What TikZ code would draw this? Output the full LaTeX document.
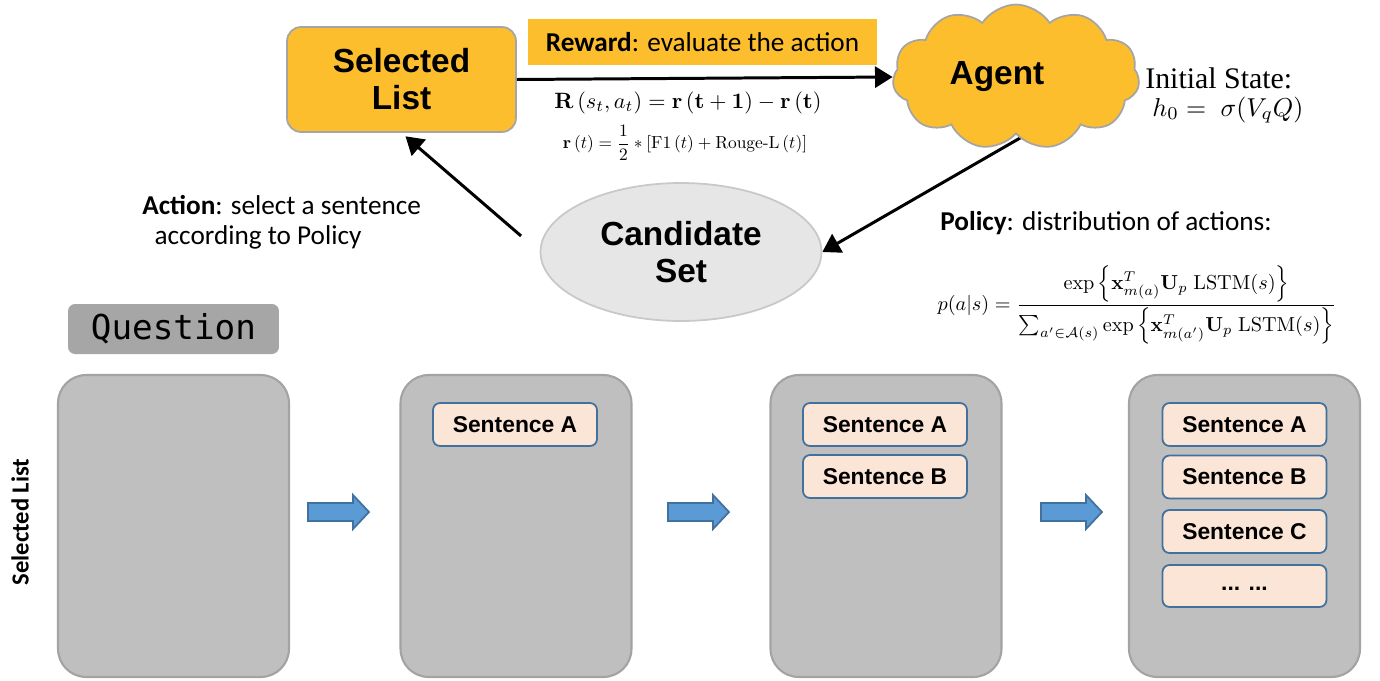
\documentclass[tikz,border=0pt]{standalone}
\usepackage{amsmath,amssymb}
\usepackage[no-math]{fontspec}
\usepackage{graphicx}
\setmainfont{Liberation Sans}
\newfontfamily\calfont{Carlito}
\newfontfamily\monofont{DejaVu Sans Mono}
\newfontfamily\serfont{Liberation Serif}
\newfontfamily\lmfont{Latin Modern Roman}
\usetikzlibrary{shapes.geometric,shapes.symbols,arrows.meta,backgrounds}
\definecolor{gold}{HTML}{FCBE2D}
\definecolor{edgegray}{HTML}{A5A5A5}
\definecolor{candfill}{HTML}{E7E6E6}
\definecolor{candedge}{HTML}{C8C8C8}
\definecolor{panelfill}{HTML}{BFBFBF}
\definecolor{paneledge}{HTML}{A3A3A3}
\definecolor{qfill}{HTML}{A6A6A6}
\definecolor{peach}{HTML}{FBE5D6}
\definecolor{steel}{HTML}{41719C}
\definecolor{bluefill}{HTML}{5B9BD5}
\begin{document}
\begin{tikzpicture}[x=0.02cm,y=-0.02cm,
  bignode/.style={font=\fontsize{19}{21}\selectfont\bfseries, align=center, inner sep=0pt},
  selbox/.style={bignode, draw=edgegray, line width=1pt, fill=gold, rounded corners=8pt,
     minimum width=4.58cm, minimum height=2.1cm},
  cloudnode/.style={bignode, cloud, cloud puffs=11, cloud puff arc=115, aspect=1.7,
     draw=edgegray, line width=1pt, fill=gold, minimum width=4.94cm, minimum height=2.9cm},
  candnode/.style={bignode, ellipse, draw=candedge, line width=1pt, fill=candfill,
     minimum width=5.62cm, minimum height=2.76cm},
  panel/.style={draw=paneledge, line width=1.2pt, fill=panelfill, rounded corners=16pt,
     minimum width=4.62cm, minimum height=6.04cm, inner sep=0pt},
  sentbox/.style={draw=steel, line width=1pt, fill=peach, rounded corners=4pt,
     minimum width=3.28cm, minimum height=0.86cm, inner sep=0pt,
     font=\fontsize{13}{15}\selectfont\bfseries},
  conn/.style={line width=1.7pt, -{Triangle[length=10pt,width=12pt]}},
  bluearrow/.style={draw=steel, line width=1pt, fill=bluefill},
  caltext/.style={font=\calfont\fontsize{15.5}{18}\selectfont, inner sep=0pt}
]
\useasboundingbox (0,0) rectangle (1380,680);

% top cycle
\node[selbox] (sel) at (401.5,79.5) {Selected\\List};
\node[fill=gold, minimum width=6.98cm, minimum height=0.94cm, inner sep=0pt,
      font=\calfont\fontsize{15.5}{18}\selectfont] (rew) at (702.5,42)
      {\textbf{Reward}: evaluate the action};
\node[cloudnode] (agent) at (1016,77) {};
\node[bignode] (agentlbl) at (997,77) {Agent};
\node[candnode] (cand) at (681,252) {Candidate\\Set};

\draw[conn] (sel.east) -- (agent.west);
\begin{pgfonlayer}{background}
\draw[conn] ([xshift=0.2cm]agent.south) -- (cand.east);
\end{pgfonlayer}
\draw[conn, shorten <=14pt, shorten >=3pt] (cand.west) -- (sel.south);

% formulas
\node[inner sep=0pt] (rformula) at (688,103)
  {\resizebox{152pt}{!}{$\mathbf{R}\left(s_t,a_t\right)=\mathbf{r}\left(\mathbf{t}+\mathbf{1}\right)-\mathbf{r}\left(\mathbf{t}\right)$}};
\node[inner sep=0pt] (rtformula) at (685,143)
  {\resizebox{139pt}{!}{$\mathbf{r}\left(t\right)=\dfrac{1}{2}*\left[\mathrm{F1}\left(t\right)+\text{\lmfont Rouge-L}\left(t\right)\right]$}};
\node[inner sep=0pt, font=\serfont\fontsize{17}{20}\selectfont, anchor=west] (init) at (1145,78) {Initial State:};
\node[inner sep=0pt, anchor=west] (hzero) at (1152,110)
  {\resizebox{86pt}{!}{$h_0 =\ \sigma(V_q Q)$}};

\node[caltext, align=left, anchor=north west] (action) at (142,195)
  {\textbf{Action}: select a sentence\\[-1pt]\hspace*{7pt}according to Policy};
\node[caltext, anchor=west] (policy) at (940,223) {\textbf{Policy}: distribution of actions:};
\node[inner sep=0pt] (pformula) at (1137,305)
  {\resizebox{227pt}{!}{$p(a|s)=\dfrac{\exp\left\{\mathbf{x}_{m(a)}^{T}\mathbf{U}_p\ \mathrm{LSTM}(s)\right\}}{\sum_{a'\in\mathcal{A}(s)}\exp\left\{\mathbf{x}_{m(a')}^{T}\mathbf{U}_p\ \mathrm{LSTM}(s)\right\}}$}};

% question
\node[fill=qfill, rounded corners=4pt, minimum width=4.22cm, minimum height=1.0cm, inner sep=0pt,
      font=\monofont\fontsize{19.5}{20}\selectfont] (question) at (173.5,329) {Question};

% panels
\node[panel] (p1) at (173.5,526) {};
\node[panel] (p2) at (516,526) {};
\node[panel] (p3) at (886,526) {};
\node[panel] (p4) at (1244.5,526) {};

\node[rotate=90, font=\calfont\fontsize{14}{16}\selectfont\bfseries, inner sep=0pt] (sidelbl) at (20,522) {Selected List};

\node[sentbox] (s2a) at (515,424.5) {Sentence A};
\node[sentbox] (s3a) at (885,424.5) {Sentence A};
\node[sentbox] (s3b) at (885,476.5) {Sentence B};
\node[sentbox] (s4a) at (1244.5,424.5) {Sentence A};
\node[sentbox] (s4b) at (1244.5,477) {Sentence B};
\node[sentbox] (s4c) at (1244.5,531.5) {Sentence C};
\node[sentbox, minimum height=0.84cm] (s4d) at (1244.5,586) {\raisebox{-5pt}{... ...}};

% blue arrows
\foreach \x in {308,668,1041}{
  \draw[bluearrow] (\x,503) -- ++(45,0) -- ++(0,-8) -- ++(16,17) -- ++(-16,17) -- ++(0,-8) -- ++(-45,0) -- cycle;
}
\end{tikzpicture}
\end{document}
